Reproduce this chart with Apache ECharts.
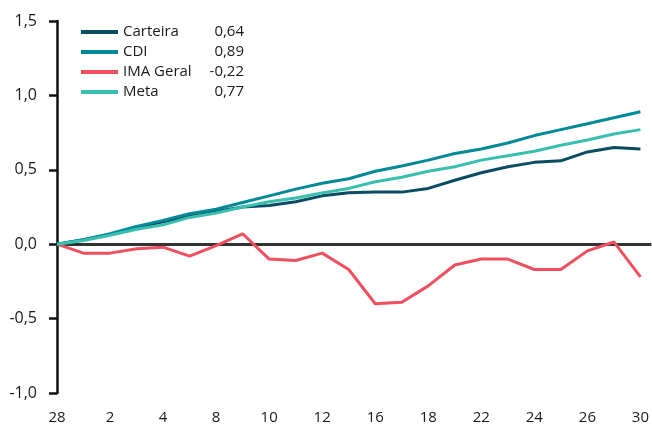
<!DOCTYPE html>
<html>
<head>
<meta charset="utf-8">
<script src="https://cdn.jsdelivr.net/npm/echarts@6/dist/echarts.min.js"></script>
<style>
  html, body { margin: 0; padding: 0; background: #fff; }
  #main { width: 652px; height: 428px; }
</style>
</head>
<body>
<div id="main"></div>
<script>
// dias (eixo x)
var days = ['28', '1', '2', '3', '4', '7', '8', '9', '10', '11', '12', '15', '16', '17', '18', '19', '22', '23', '24', '25', '26', '29', '30'];
// rentabilidade acumulada (%)
var carteira = [0, 0.03, 0.065, 0.11, 0.15, 0.19, 0.22, 0.25, 0.26, 0.285, 0.325, 0.345, 0.35, 0.35, 0.375, 0.43, 0.48, 0.52, 0.55, 0.56, 0.62, 0.65, 0.64];
var cdi = [0, 0.03, 0.07, 0.12, 0.16, 0.205, 0.235, 0.28, 0.325, 0.37, 0.41, 0.44, 0.49, 0.525, 0.565, 0.61, 0.64, 0.68, 0.73, 0.77, 0.81, 0.85, 0.89];
var imaGeral = [0, -0.06, -0.06, -0.03, -0.02, -0.08, -0.01, 0.07, -0.10, -0.11, -0.06, -0.17, -0.40, -0.39, -0.28, -0.14, -0.10, -0.10, -0.17, -0.17, -0.045, 0.015, -0.22];
var meta = [0, 0.025, 0.06, 0.10, 0.13, 0.18, 0.21, 0.25, 0.285, 0.31, 0.345, 0.375, 0.42, 0.45, 0.49, 0.52, 0.565, 0.595, 0.625, 0.665, 0.70, 0.74, 0.77];
// valores da legenda
var legendValues = { 'Carteira': '0,64', 'CDI': '0,89', 'IMA Geral': '-0,22', 'Meta': '0,77' };

var font = '"Open Sans", "Noto Sans", sans-serif';

function pairs(arr) {
  return arr.map(function (v, i) { return [i, v]; });
}

function line(name, arr, color) {
  return {
    name: name,
    type: 'line',
    data: pairs(arr),
    symbol: 'none',
    lineStyle: { color: color, width: 3 },
    itemStyle: { color: color },
    z: 3
  };
}

var chart = echarts.init(document.getElementById('main'), null, { renderer: 'canvas' });

var series = [
  line('Carteira', carteira, '#0a4d63'),
  line('CDI', cdi, '#008a99'),
  line('IMA Geral', imaGeral, '#ef4f5f'),
  line('Meta', meta, '#38bfae')
];
// linha do zero
series[0].markLine = {
  silent: true,
  symbol: 'none',
  label: { show: false },
  lineStyle: { color: '#333', width: 3, type: 'solid' },
  data: [{ yAxis: 0 }],
  z: 2
};

chart.setOption({
  animation: false,
  backgroundColor: '#ffffff',
  grid: { left: 57, right: 0, top: 21, bottom: 35 },
  legend: {
    orient: 'vertical',
    left: 81,
    top: 22,
    padding: 0,
    itemWidth: 37,
    itemHeight: 4,
    itemGap: 0,
    icon: 'rect',
    data: ['Carteira', 'CDI', 'IMA Geral', 'Meta'],
    formatter: function (name) {
      return '{n|' + name + '}{v|' + legendValues[name] + '}';
    },
    textStyle: {
      fontFamily: font,
      fontSize: 15,
      color: '#1a1a1a',
      lineHeight: 20,
      rich: {
        n: { width: 80, fontFamily: font, fontSize: 15, color: '#1a1a1a', lineHeight: 20 },
        v: { width: 41, align: 'right', fontFamily: font, fontSize: 15, color: '#1a1a1a', lineHeight: 20 }
      }
    }
  },
  xAxis: {
    type: 'value',
    min: 0,
    max: 22 * 595 / 584,
    interval: 2,
    axisLine: { show: false, onZero: false },
    axisTick: { show: false },
    splitLine: { show: false },
    axisLabel: {
      margin: 17,
      fontFamily: font,
      fontSize: 15,
      color: '#1a1a1a',
      showMaxLabel: false,
      formatter: function (v) {
        return Number.isInteger(v) && days[v] !== undefined ? days[v] : '';
      }
    }
  },
  yAxis: {
    type: 'value',
    min: -1,
    max: 1.5,
    interval: 0.5,
    axisLine: { show: true, onZero: false, lineStyle: { color: '#111', width: 2.5 } },
    axisTick: { show: true, length: 8, lineStyle: { color: '#111', width: 2.5 } },
    splitLine: { show: false },
    axisLabel: {
      margin: 20,
      fontFamily: font,
      fontSize: 16,
      color: '#1a1a1a',
      formatter: function (v) { return v.toFixed(1).replace('.', ','); }
    }
  },
  series: series
});
</script>
</body>
</html>
